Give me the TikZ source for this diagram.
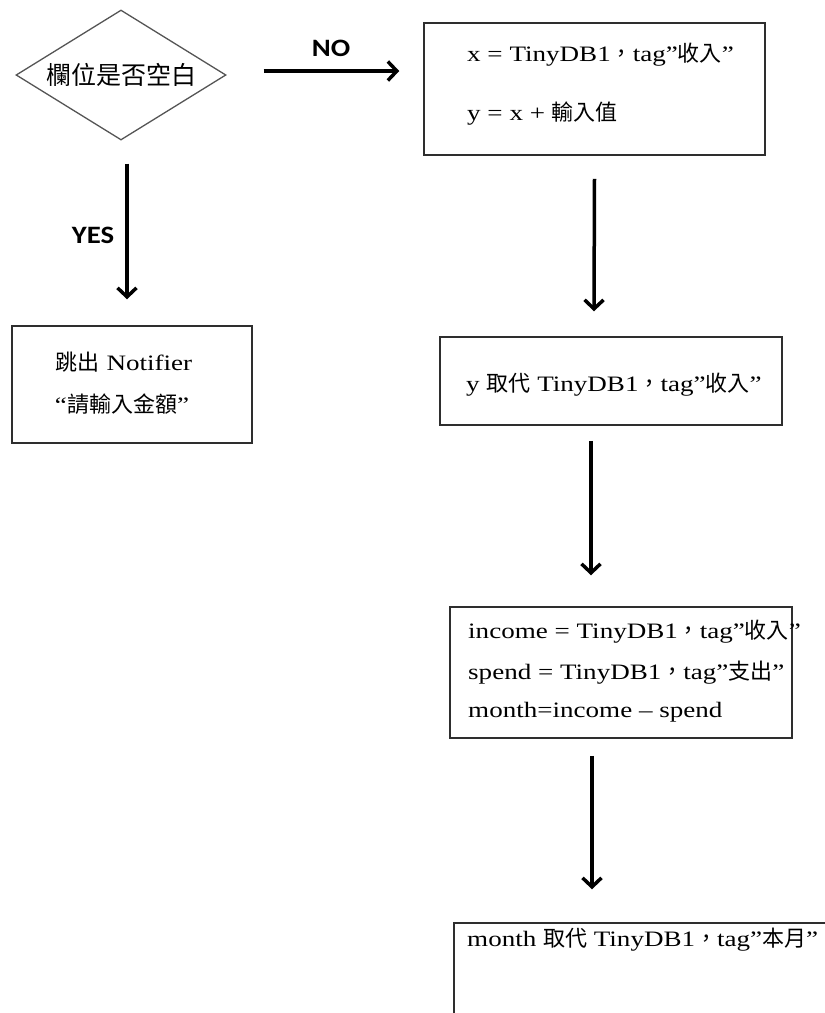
\documentclass[tikz,border=0pt]{standalone}
\usepackage{fontspec}
\setmainfont{Liberation Serif}[FakeStretch=1.23]
\newfontfamily\cjk{Noto Sans CJK TC}
\newfontfamily\labelfont{Carlito}[FakeStretch=1.15]
\usetikzlibrary{shapes.geometric,arrows.meta}
\newcommand\zh[1]{{\cjk #1}}
\definecolor{boxline}{HTML}{2E2E2E}
\definecolor{diamondline}{HTML}{555555}

\tikzset{
  stepbox/.style={draw=boxline, line width=1.5pt, inner sep=0pt, fill=none},
  decision/.style={diamond, draw=diamondline, line width=1.3pt, inner sep=0pt,
    shape aspect=1.615, minimum width=210pt, minimum height=130pt,
    font=\cjk\fontsize{25}{28}\selectfont},
  body/.style={inner sep=0pt, font=\fontsize{22}{26}\selectfont},
  branch/.style={inner sep=0pt, font=\labelfont\bfseries\fontsize{25}{30}\selectfont},
  flow/.style={line width=3.5pt, -{Straight Barb[length=9pt,width=19pt]}}
}

\begin{document}
\begin{tikzpicture}[x=1pt,y=-1pt]
\useasboundingbox (0,0) rectangle (825,1013);
\clip (0,0) rectangle (825,1013);

% decision
\node[decision] (dia) at (121,75) {欄位是否空白};

% boxes
\node[stepbox, minimum width=240pt, minimum height=117pt] (b1) at (132,384.5) {};
\node[stepbox, minimum width=341pt, minimum height=132pt] (b2) at (594.5,89) {};
\node[stepbox, minimum width=342pt, minimum height=88pt]  (b3) at (611,381) {};
\node[stepbox, minimum width=342pt, minimum height=131pt] (b4) at (621,672.5) {};
\node[stepbox, minimum width=391pt, minimum height=117pt] (b5) at (649.5,981.5) {};

% texts
\node[body, anchor=base] (t1a) at (124,370) {\zh{跳出} Notifier};
\node[body, anchor=base] (t1b) at (122,412) {“\zh{請輸入金額}”};

\node[body, anchor=base west] (t2a) at (467,61) {x = TinyDB1\zh{，}tag”\zh{收入}”};
\node[body, anchor=base west] (t2b) at (467,120) {y = x +\ \zh{輸入值}};

\node[body, anchor=base west] (t3) at (466,391) {y \zh{取代} TinyDB1\zh{，}tag”\zh{收入}”};

\node[body, anchor=base west] (t4a) at (468,638) {income = TinyDB1\zh{，}tag”\zh{收入}”};
\node[body, anchor=base west] (t4b) at (468,679) {spend = TinyDB1\zh{，}tag”\zh{支出}”};
\node[body, anchor=base west] (t4c) at (468,717) {month=income -- spend};

\node[body, anchor=base west] (t5) at (467,946) {month \zh{取代} TinyDB1\zh{，}tag”\zh{本月}”};

% branch labels
\node[branch] (no)  at (331,48)  {NO};
\node[branch] (yes) at (93,235)  {YES};

% connectors
\draw[flow] ([xshift=37pt,yshift=4pt]dia.east) -- ([xshift=-24pt,yshift=18pt]b2.west);
\draw[flow] ([xshift=6pt,yshift=-23pt]dia.south) -- ([xshift=-5pt,yshift=26pt]b1.north);
\draw[flow] ([yshift=-23pt]b2.south) -- ([xshift=-17pt,yshift=25pt]b3.north);
\draw[flow] ([xshift=-20pt,yshift=-15pt]b3.south) -- ([xshift=-30pt,yshift=31pt]b4.north);
\draw[flow] ([xshift=-29pt,yshift=-17pt]b4.south) -- ([xshift=-57.5pt,yshift=33pt]b5.north);
\end{tikzpicture}
\end{document}
